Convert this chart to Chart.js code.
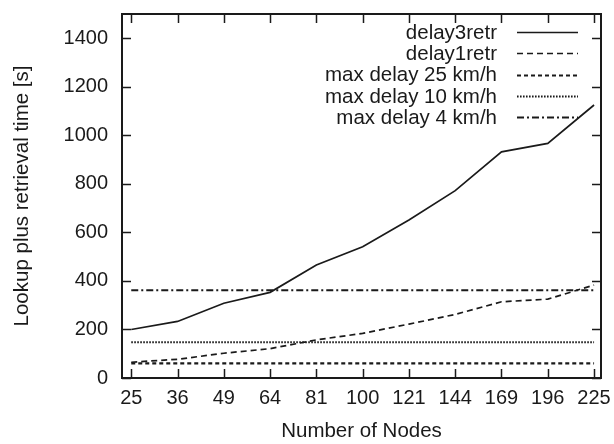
<!DOCTYPE html>
<html>
<head>
<meta charset="utf-8">
<script src="https://cdn.jsdelivr.net/npm/chart.js@4/dist/chart.umd.min.js"></script>
<style>
    html, body { margin: 0; padding: 0; background: #fff; }
    #wrap { width: 614px; height: 444px; }
</style>
</head>
<body>
<div id="wrap"><canvas id="delayChart" width="614" height="444"></canvas></div>
<script>
const nodes = [25, 36, 49, 64, 81, 100, 121, 144, 169, 196, 225];
const delay3retr = [200, 233, 308, 353, 466, 541, 651, 772, 932, 967, 1125];
const delay1retr = [65, 77, 102, 121, 157, 184, 222, 262, 314, 325, 383];
const maxDelay25 = 60;
const maxDelay10 = 147;
const maxDelay4 = 362;
const yTicks = [0, 200, 400, 600, 800, 1000, 1200, 1400];

const ink = "#1a1a1a";
const fontFamily = "'Liberation Sans', Arial, sans-serif";

function toPoints(values) {
    return nodes.map((n, i) => ({ x: i + 1, y: values[i] }));
}

function flat(value) {
    return nodes.map((n, i) => ({ x: i + 1, y: value }));
}

// gnuplot style frame with ticks pointing inward on all four sides
const frame = {
    id: "frame",
    afterDatasetsDraw(chart) {
        const { ctx, chartArea: a, scales } = chart;
        const len = 9;
        ctx.save();
        ctx.strokeStyle = ink;
        ctx.lineWidth = 1.5;
        ctx.beginPath();
        scales.x.ticks.forEach(t => {
            const px = Math.round(scales.x.getPixelForValue(t.value)) + 0.5;
            ctx.moveTo(px, a.bottom);
            ctx.lineTo(px, a.bottom - len);
            ctx.moveTo(px, a.top);
            ctx.lineTo(px, a.top + len);
        });
        scales.y.ticks.forEach(t => {
            const py = Math.round(scales.y.getPixelForValue(t.value)) + 0.5;
            ctx.moveTo(a.left, py);
            ctx.lineTo(a.left + len, py);
            ctx.moveTo(a.right, py);
            ctx.lineTo(a.right - len, py);
        });
        ctx.stroke();
        ctx.lineWidth = 2;
        ctx.strokeRect(a.left, a.top, a.right - a.left, a.bottom - a.top);
        ctx.restore();
    }
};

// key in the top right corner: label right aligned, line sample after it
const key = {
    id: "key",
    afterDatasetsDraw(chart) {
        const ctx = chart.ctx;
        const textRight = 497;
        const lineStart = 517, lineEnd = 578;
        const firstRow = 32, rowStep = 21.3;
        ctx.save();
        ctx.font = "20.5px " + fontFamily;
        ctx.textAlign = "right";
        ctx.textBaseline = "middle";
        chart.data.datasets.forEach((ds, i) => {
            const y = firstRow + i * rowStep;
            ctx.fillStyle = ink;
            ctx.fillText(ds.label, textRight, y + 1);
            ctx.strokeStyle = ds.borderColor;
            ctx.lineWidth = ds.borderWidth;
            ctx.setLineDash(ds.borderDash || []);
            ctx.beginPath();
            ctx.moveTo(lineStart, Math.round(y) + 0.5);
            ctx.lineTo(lineEnd, Math.round(y) + 0.5);
            ctx.stroke();
        });
        ctx.restore();
    }
};

function noEdgePadding(scale) {
    scale.paddingTop = 0;
    scale.paddingBottom = 0;
    scale.paddingLeft = 0;
    scale.paddingRight = 0;
}

new Chart(document.getElementById("delayChart"), {
    type: "line",
    data: {
        datasets: [
            { label: "delay3retr", data: toPoints(delay3retr), borderColor: ink, borderWidth: 1.7, borderDash: [] },
            { label: "delay1retr", data: toPoints(delay1retr), borderColor: ink, borderWidth: 1.7, borderDash: [6, 4] },
            { label: "max delay 25 km/h", data: flat(maxDelay25), borderColor: ink, borderWidth: 2.2, borderDash: [4, 3] },
            { label: "max delay 10 km/h", data: flat(maxDelay10), borderColor: ink, borderWidth: 2, borderDash: [1.6, 1.4] },
            { label: "max delay 4 km/h", data: flat(maxDelay4), borderColor: ink, borderWidth: 2, borderDash: [7, 3, 2, 3] }
        ]
    },
    options: {
        responsive: false,
        animation: false,
        layout: { padding: { left: 0, top: 14, right: 13, bottom: 0 } },
        elements: { point: { radius: 0 }, line: { tension: 0, fill: false } },
        plugins: { legend: { display: false }, tooltip: { enabled: false } },
        scales: {
            x: {
                type: "linear",
                min: 0.8,
                max: 11.15,
                grid: { display: false, drawTicks: false },
                border: { display: false },
                afterBuildTicks: scale => { scale.ticks = nodes.map((n, i) => ({ value: i + 1 })); },
                afterFit: scale => { scale.height = 66; noEdgePadding(scale); },
                ticks: {
                    autoSkip: false,
                    maxRotation: 0,
                    padding: 8,
                    color: ink,
                    font: { family: fontFamily, size: 20 },
                    callback: v => String(nodes[v - 1])
                },
                title: {
                    display: true,
                    text: "Number of Nodes",
                    color: ink,
                    font: { family: fontFamily, size: 20.5 },
                    padding: { top: 0, bottom: 0 }
                }
            },
            y: {
                min: 0,
                max: 1500,
                grid: { display: false, drawTicks: false },
                border: { display: false },
                afterBuildTicks: scale => { scale.ticks = yTicks.map(v => ({ value: v })); },
                afterFit: scale => { scale.width = 122; noEdgePadding(scale); },
                ticks: {
                    padding: 14,
                    color: ink,
                    font: { family: fontFamily, size: 20 },
                    callback: v => String(v)
                },
                title: {
                    display: true,
                    text: "Lookup plus retrieval time [s]",
                    color: ink,
                    font: { family: fontFamily, size: 20.5 },
                    padding: { top: 10, bottom: 0 }
                }
            }
        }
    },
    plugins: [frame, key]
});
</script>
</body>
</html>
